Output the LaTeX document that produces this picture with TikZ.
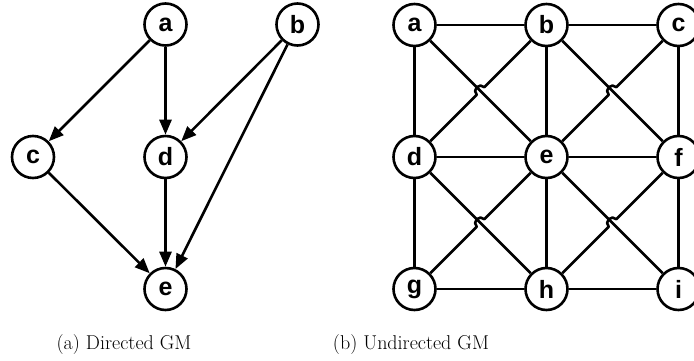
\documentclass[tikz,border=0pt]{standalone}
\usepackage{fontspec}
\newfontfamily\nodefont{Liberation Sans}
\usetikzlibrary{arrows.meta,calc}
\begin{document}
\begin{tikzpicture}[x=1pt,y=1pt,
  gmnode/.style={circle,draw,line width=2.6pt,minimum size=42pt,inner sep=0pt,font=\nodefont\bfseries\fontsize{25}{25}\selectfont},
  edge/.style={line width=2.6pt},
  arr/.style={edge,-{Triangle[length=15pt,width=12pt]}},
  captext/.style={font=\fontsize{20}{22}\selectfont,anchor=base}]
\useasboundingbox (0,0) rectangle (694,360);
% Directed GM
\node[gmnode] (la) at (165.5,335.5) {a};
\node[gmnode] (lb) at (297.5,335.5) {b};
\node[gmnode] (lc) at (33,203) {c};
\node[gmnode] (ld) at (165.5,203) {d};
\node[gmnode] (le) at (165.5,71) {e};
\draw[arr] (la) -- (lc);
\draw[arr] (la) -- (ld);
\draw[arr] (lb) -- (ld);
\draw[arr] (lb) -- (le);
\draw[arr] (lc) -- (le);
\draw[arr] (ld) -- (le);
% Undirected GM
\node[gmnode] (a) at (414.5,335) {a};
\node[gmnode] (b) at (546.5,335) {b};
\node[gmnode] (c) at (678.5,335) {c};
\node[gmnode] (d) at (414.5,203) {d};
\node[gmnode] (e) at (546.5,203) {e};
\node[gmnode] (f) at (678.5,203) {f};
\node[gmnode] (g) at (414.5,71) {g};
\node[gmnode] (h) at (546.5,71) {h};
\node[gmnode] (i) at (678.5,71) {i};
\foreach \u/\v in {a/b,b/c,d/e,e/f,g/h,h/i,a/d,d/g,b/e,e/h,c/f,f/i,a/e,b/f,d/h,e/i}
  \draw[edge] (\u) -- (\v);
% hopping diagonals (lower-left to upper-right)
\foreach \u/\v in {d/b,e/c,g/e,h/f}{
  \coordinate (m\u\v) at ($(\u)!0.5!(\v)$);
  \draw[edge,line join=round] (\u) -- ($(m\u\v)+(-3.8,-3.8)$)
     arc[start angle=225,end angle=45,radius=5.4] -- (\v);
}
% captions
\node[captext] (capa) at (124,11) {(a) Directed GM};
\node[captext] (capb) at (411,11) {(b) Undirected GM};
\end{tikzpicture}
\end{document}
